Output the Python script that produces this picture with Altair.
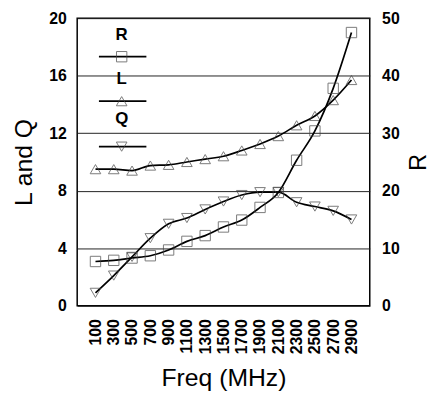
import altair as alt
import pandas as pd

freqs = [100, 300, 500, 700, 900, 1100, 1300, 1500, 1700, 1900, 2100, 2300, 2500, 2700, 2900]
L_vals = [9.5, 9.5, 9.4, 9.75, 9.8, 10.0, 10.2, 10.4, 10.8, 11.25, 11.8, 12.55, 13.2, 14.3, 15.7]
Q_vals = [0.9, 2.1, 3.4, 4.7, 5.7, 6.1, 6.7, 7.25, 7.7, 7.9, 7.9, 7.2, 6.9, 6.6, 6.0]
R_vals = [7.7, 7.9, 8.3, 8.7, 9.7, 11.2, 12.2, 13.7, 14.9, 17.1, 19.7, 25.3, 30.4, 37.8, 47.5]

df = pd.DataFrame({"freq": [str(f) for f in freqs], "L": L_vals, "Q": Q_vals, "R": R_vals})
order = [str(f) for f in freqs]

FONT = "Liberation Sans"
W, H = 296, 291

xenc = alt.X("freq:O", sort=order, scale=alt.Scale(type="point", padding=1.17),
             axis=alt.Axis(title="Freq (MHz)", labelAngle=-90, labelFontWeight="bold",
                           labelFontSize=16, titleFontSize=25, titleFontWeight="normal",
                           ticks=False, domain=False, labelPadding=13, titlePadding=12,
                           labelBaseline="middle", labelAlign="right"))

yleft = alt.Scale(domain=[0, 20])
yright = alt.Scale(domain=[0, 50])

left_axis = alt.Axis(title="L and Q", values=[0, 4, 8, 12, 16, 20], grid=True,
                     gridColor="#222", gridWidth=1, ticks=False, domain=False,
                     labelFontWeight="bold", labelFontSize=16, titleFontSize=25,
                     titleFontWeight="normal", labelPadding=11, titlePadding=12)
right_axis = alt.Axis(title="R", orient="right", values=[0, 10, 20, 30, 40, 50], grid=False,
                      ticks=False, domain=False, labelFontWeight="bold", labelFontSize=16,
                      titleFontSize=24, titleFontWeight="normal", labelPadding=12,
                      titlePadding=32, titleAngle=270)

base = alt.Chart(df)

def series(field, shape, scale, axis, size):
    y = alt.Y(f"{field}:Q", scale=scale, axis=axis)
    line = base.mark_line(color="black", strokeWidth=1.7, interpolate="monotone").encode(x=xenc, y=y)
    pts = base.mark_point(shape=shape, filled=False, color="#444", size=size, strokeWidth=1).encode(x=xenc, y=y)
    return line, pts

lL, pL = series("L", "triangle-up", yleft, left_axis, 115)
lQ, pQ = series("Q", "triangle-down", yleft, left_axis, 115)
left = alt.layer(lL, pL, lQ, pQ)

lR, pR = series("R", "square", yright, right_axis, 110)
right = alt.layer(lR, pR)

# legend (decoration)
legend_items = [("R", "square", 17, 39, 110), ("L", "triangle-up", 62, 84, 115),
                ("Q", "triangle-down", 102, 130, 115)]
leg_layers = []
one = pd.DataFrame({"a": [0]})
for lab, shp, ty, ly, sz in legend_items:
    leg_layers.append(alt.Chart(one).mark_text(text=lab, font=FONT, fontSize=17, fontWeight="bold",
                                               align="center", baseline="middle").encode(
        x=alt.value(45), y=alt.value(ty)))
    leg_layers.append(alt.Chart(one).mark_rule(color="black", strokeWidth=1.7).encode(
        x=alt.value(22), x2=alt.value(70), y=alt.value(ly)))
    leg_layers.append(alt.Chart(one).mark_point(shape=shp, filled=False, color="#444", size=sz,
                                                strokeWidth=1).encode(
        x=alt.value(45), y=alt.value(ly)))

chart = alt.layer(left, right, *leg_layers).resolve_scale(y="independent").properties(
    width=W, height=H,
    autosize=alt.AutoSizeParams(type="none"),
    padding={"left": 70, "top": 8, "right": 66, "bottom": 89}
).configure_view(stroke="black", strokeWidth=1.5).configure_axis(
    labelFont=FONT, titleFont=FONT, labelColor="black", titleColor="black"
)

chart.save("out.html", embed_options={"renderer": "svg", "actions": False})
